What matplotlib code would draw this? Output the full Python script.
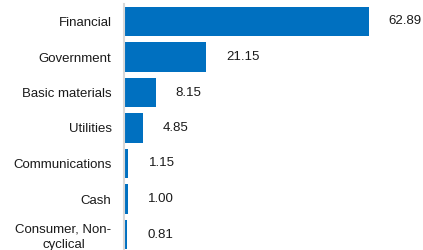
import matplotlib
matplotlib.use("Agg")
import matplotlib.pyplot as plt

categories = ["Financial", "Government", "Basic materials", "Utilities",
              "Communications", "Cash", "Consumer, Non-\ncyclical"]
values = [62.89, 21.15, 8.15, 4.85, 1.15, 1.00, 0.81]
labels = ["62.89", "21.15", "8.15", "4.85", "1.15", "1.00", "0.81"]

plt.rcParams["font.family"] = ["Liberation Sans", "DejaVu Sans"]

fig = plt.figure(figsize=(4.23, 2.5), dpi=100)
# axes in pixel terms: left edge x=124, top y=3.75, row pitch 35.5 px
W, H = 423, 250
left, right = 124, 423
top, bottom = 3.75, 3.75 + 7 * 35.5
ax = fig.add_axes([left / W, 1 - bottom / H, (right - left) / W, (bottom - top) / H])

y = range(len(categories))
ax.barh(y, values, height=0.82, color="#0070C0")
ax.set_ylim(len(categories) - 0.5, -0.5)
ax.set_xlim(0, (right - left) / 3.89)

for i, (v, t) in enumerate(zip(values, labels)):
    ax.annotate(t, (v, i), xytext=(20, 0), textcoords="offset pixels",
                va="center", ha="left", fontsize=9.5, color="#1a1a1a")

ax.set_yticks(list(y))
ax.set_yticklabels(categories, fontsize=9.5, color="#1a1a1a")
for lbl in ax.get_yticklabels():
    lbl.set_multialignment("center")
    lbl.set_linespacing(1.35)
ax.tick_params(axis="y", length=0, pad=9)
ax.set_xticks([])
for s in ["top", "right", "bottom"]:
    ax.spines[s].set_visible(False)
ax.spines["left"].set_color("#d9d9d9")
ax.spines["left"].set_linewidth(1.5)

fig.savefig("out.png", dpi=100)
